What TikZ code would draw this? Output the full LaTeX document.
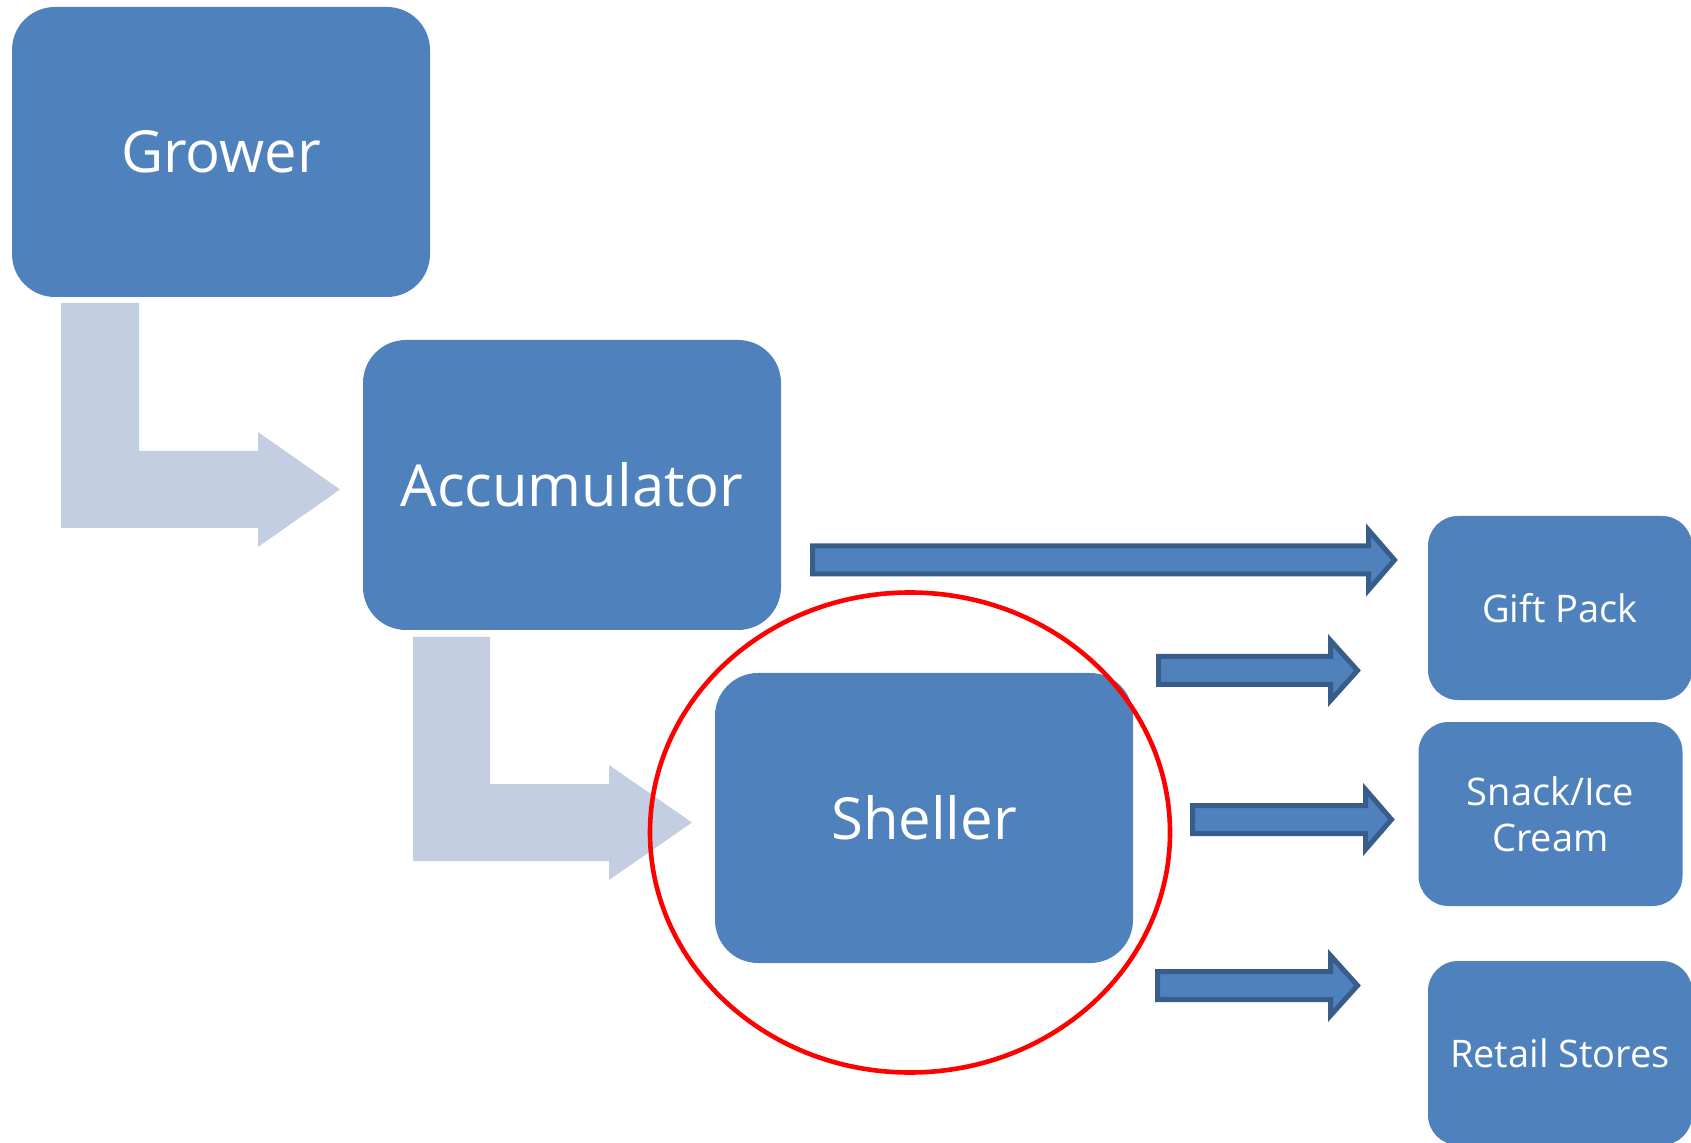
\documentclass[tikz,border=0pt]{standalone}
\usepackage{fontspec}
\setmainfont{Open Sans}
\definecolor{boxblue}{HTML}{4F81BD}
\definecolor{lightflow}{HTML}{C4CEE3}
\definecolor{arrowline}{HTML}{385D8A}
\newcommand\blockarr[4]{%
  \path[blockarrow] ({#1+2.5},{#2-14}) -- ({#3+2.5},{#2-14}) -- ({#3+2.5},{#2-30})
    -- ({#4-3.5},{#2}) -- ({#3+2.5},{#2+30}) -- ({#3+2.5},{#2+14})
    -- ({#1+2.5},{#2+14}) -- cycle;}
\begin{document}
\begin{tikzpicture}[x=0.5pt,y=-0.5pt,
  bigbox/.style={rectangle, fill=boxblue, rounded corners=21.5pt,
    minimum width=209pt, minimum height=145pt, inner sep=0pt, text=white,
    font=\fontsize{29}{34}\selectfont, align=center},
  smallbox/.style={rectangle, fill=boxblue, rounded corners=15pt,
    minimum width=132pt, minimum height=92pt, inner sep=0pt, text=white,
    font=\fontsize{19}{23}\selectfont, align=center},
  lightarrow/.style={fill=lightflow},
  blockarrow/.style={fill=boxblue, draw=arrowline, line width=2.5pt, line join=miter},
  ring/.style={draw=red, line width=2.3pt}]
\useasboundingbox (0,0) rectangle (1691,1143);
\fill[white] (0,0) rectangle (1691,1143);

% light L-shaped flow arrows
\path[lightarrow] (61,303) -- (139,303) -- (139,451) -- (258,451) -- (258,432)
  -- (340,489.5) -- (258,547) -- (258,528) -- (61,528) -- cycle;
\path[lightarrow] (413,637) -- (490,637) -- (490,784) -- (609,784) -- (609,765)
  -- (692,822.5) -- (609,880) -- (609,861) -- (413,861) -- cycle;

% boxes
\node[bigbox] (grower) at (221,152) {Grower};
\node[bigbox] (accum) at (572,485) {Accumulator};
\node[bigbox] (sheller) at (924,818) {Sheller};
\node[smallbox] (gift) at (1560,608) {Gift Pack};
\node[smallbox] (snack) at (1550.5,814) {Snack/Ice\\Cream};
\node[smallbox] (retail) at (1560,1053) {Retail Stores};

% block arrows
\blockarr{810}{560}{1366}{1398}
\blockarr{1156}{670.5}{1328}{1361}
\blockarr{1190}{819.5}{1363}{1395}
\blockarr{1155}{985.5}{1328}{1361}

% red ring around the sheller
\draw[ring] (910,832.5) ellipse [x radius=130pt, y radius=120pt];
\end{tikzpicture}
\end{document}
